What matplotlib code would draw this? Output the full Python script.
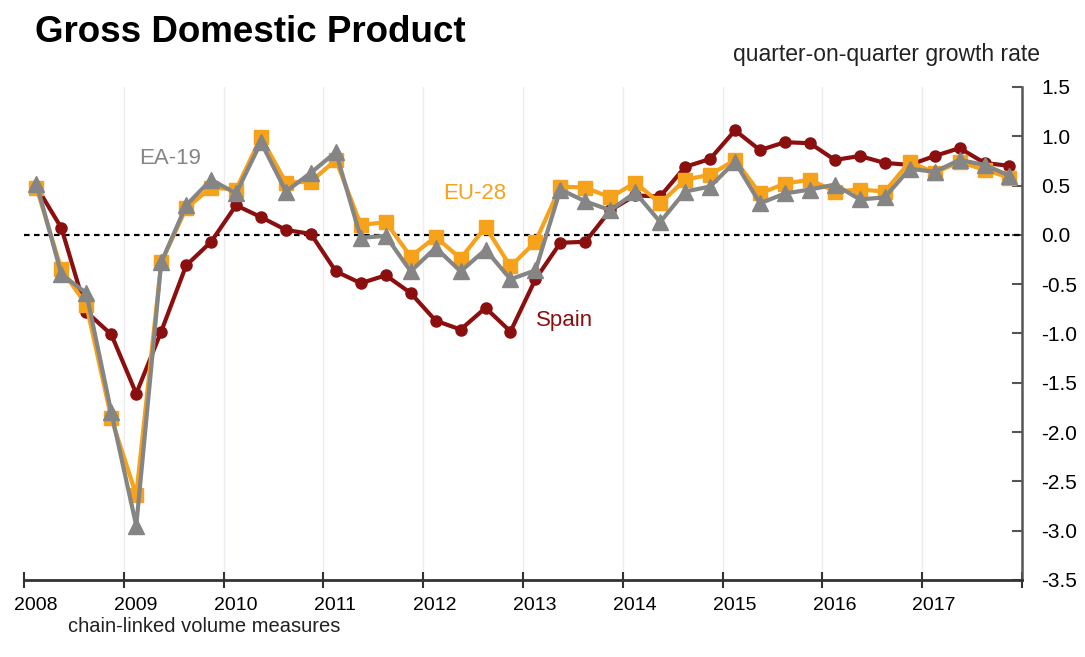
import matplotlib.pyplot as plt
import numpy as np
from matplotlib.ticker import FixedLocator, FuncFormatter

# quarterly GDP growth, 2008Q1 .. 2017Q4 (% change on previous quarter)
years = list(range(2008, 2018))
spain = [0.49, 0.07, -0.78, -1.01,
         -1.61, -0.98, -0.31, -0.07,
         0.30, 0.18, 0.05, 0.01,
         -0.37, -0.49, -0.41, -0.59,
         -0.87, -0.96, -0.74, -0.98,
         -0.45, -0.08, -0.07, 0.25,
         0.40, 0.39, 0.69, 0.77,
         1.06, 0.86, 0.94, 0.93,
         0.76, 0.80, 0.73, 0.71,
         0.80, 0.88, 0.73, 0.70]
eu28 = [0.48, -0.35, -0.71, -1.86,
        -2.64, -0.28, 0.27, 0.48,
        0.46, 0.99, 0.53, 0.54,
        0.76, 0.10, 0.13, -0.22,
        -0.02, -0.24, 0.08, -0.32,
        -0.07, 0.49, 0.48, 0.38,
        0.53, 0.32, 0.56, 0.61,
        0.76, 0.42, 0.52, 0.56,
        0.44, 0.46, 0.44, 0.74,
        0.63, 0.74, 0.66, 0.58]
ea19 = [0.52, -0.40, -0.59, -1.80,
        -2.95, -0.28, 0.30, 0.56,
        0.42, 0.94, 0.44, 0.63,
        0.84, -0.03, -0.01, -0.37,
        -0.13, -0.37, -0.15, -0.45,
        -0.36, 0.46, 0.34, 0.25,
        0.43, 0.13, 0.44, 0.49,
        0.74, 0.32, 0.42, 0.46,
        0.51, 0.36, 0.38, 0.67,
        0.64, 0.76, 0.71, 0.60]

c_spain = "#8b0f0f"
c_eu = "#f7a21b"
c_ea = "#858585"

plt.rcParams["font.family"] = ["Liberation Sans", "DejaVu Sans"]

fig = plt.figure(figsize=(10.85, 6.57), dpi=100)
ax = fig.add_axes([0.0221, 0.1172, 0.9198, 0.7504])

# each quarter is plotted in the middle of its slot
t = years[0] + (np.arange(len(spain)) + 0.5) / 4

ax.axhline(0, color="black", lw=1.6, ls=(0, (2.5, 2)), zorder=2)
ax.plot(t, spain, color=c_spain, lw=3, marker="o", ms=8, zorder=3)
ax.plot(t, eu28, color=c_eu, lw=3, marker="s", ms=10, zorder=4)
ax.plot(t, ea19, color=c_ea, lw=3, marker="^", ms=11, zorder=5)

ax.set_xlim(2008, 2018)
ax.set_ylim(-3.5, 1.5)

for y in years[1:]:
    ax.axvline(y, color="#ececf2", lw=1, zorder=0)

# x axis: tick marks on year boundaries, labels nudged into the year
ax.xaxis.set_major_locator(FixedLocator(years + [2018]))
ax.xaxis.set_major_formatter(FuncFormatter(lambda v, p: ""))
ax.xaxis.set_minor_locator(FixedLocator([y + 0.12 for y in years]))
ax.xaxis.set_minor_formatter(FuncFormatter(lambda v, p: f"{int(round(v - 0.12))}"))
ax.tick_params(axis="x", which="major", direction="inout", length=12,
               width=1.5, color="#333333")
ax.tick_params(axis="x", which="minor", length=0, pad=12, labelsize=14)

# y axis on the right
ax.yaxis.tick_right()
ax.set_yticks(np.arange(-3.5, 1.51, 0.5))
ax.yaxis.set_major_formatter(FuncFormatter(lambda v, p: f"{v:.1f}".replace("\u2212", "-")))
ax.tick_params(axis="y", direction="in", length=7, width=1.5, color="#555555",
               labelsize=15, pad=14)

for s in ("left", "top"):
    ax.spines[s].set_visible(False)
ax.spines["right"].set_color("#555555")
ax.spines["right"].set_linewidth(1.8)
ax.spines["bottom"].set_color("#333333")
ax.spines["bottom"].set_linewidth(2)

ax.text(2009.15, 0.77, "EA-19", color=c_ea, fontsize=16, ha="left", va="center")
ax.text(2012.2, 0.42, "EU-28", color=c_eu, fontsize=16, ha="left", va="center")
ax.text(2013.13, -0.87, "Spain", color=c_spain, fontsize=16, ha="left", va="center")

fig.text(35 / 1085, 1 - 32 / 657, "Gross Domestic Product", fontsize=26.5,
         fontweight="bold", ha="left", va="center")
fig.text(1040 / 1085, 1 - 55 / 657, "quarter-on-quarter growth rate",
         fontsize=16.5, ha="right", va="center", color="#222222")
fig.text(68 / 1085, 1 - 626 / 657, "chain-linked volume measures",
         fontsize=14.5, ha="left", va="center", color="#222222")

fig.savefig("out.png", dpi=100)
